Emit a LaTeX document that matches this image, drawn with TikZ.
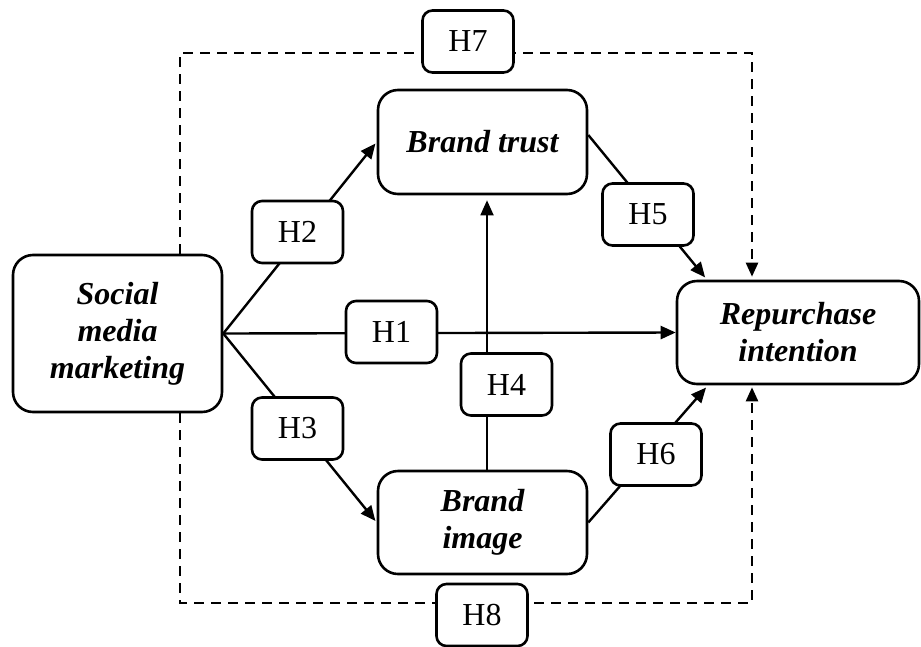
\documentclass[tikz,border=0pt]{standalone}
\usepackage{fontspec}
\setmainfont{Liberation Serif}
\usetikzlibrary{arrows.meta,calc}

\tikzset{
  construct/.style={draw, line width=2.6pt, rounded corners=20pt, align=center,
    inner sep=0pt, font=\fontsize{32}{37}\selectfont\bfseries\itshape},
  hyp/.style={draw, line width=2.6pt, rounded corners=10pt, fill=white,
    minimum width=91pt, minimum height=62pt, inner sep=0pt,
    font=\fontsize{32}{37}\selectfont},
  arrowlink/.style={line width=2.4pt, -{Triangle[length=15pt,width=13pt]}},
  dashlink/.style={line width=2.4pt, dash pattern=on 10pt off 7pt,
    -{Triangle[length=14pt,width=12pt]}}
}

\begin{document}
\begin{tikzpicture}[x=1pt,y=-1pt]
  \useasboundingbox (0,0) rectangle (921,646);

  % constructs
  \node[construct, minimum width=209pt, minimum height=157pt] (smm) at (117.5,333.5)
    {Social\\media\\marketing};
  \node[construct, minimum width=209pt, minimum height=104pt] (trust) at (482.5,142)
    {Brand trust};
  \node[construct, minimum width=209pt, minimum height=103pt] (image) at (482.5,522.5)
    {Brand\\image};
  \node[construct, minimum width=242pt, minimum height=103pt] (rep) at (798,332.5)
    {Repurchase\\intention};

  % direct paths
  \draw[arrowlink, shorten >=2pt] (smm.east) -- (trust.west);
  \draw[arrowlink] (smm.east) -- (rep.west);
  \draw[arrowlink, shorten >=2pt] (smm.east) -- (image.west);
  \draw[line width=1.8pt, -{Triangle[length=15pt,width=13pt]}, shorten >=5pt]
    ([xshift=4.5pt]image.north) -- ([xshift=4.5pt]trust.south);
  \draw[arrowlink, shorten >=3pt] ([yshift=7pt]trust.east) -- ([xshift=-91pt]rep.north);
  \draw[arrowlink, shorten >=3pt] (image.east) -- ([xshift=-90pt]rep.south);

  % mediated paths (dashed frame)
  \coordinate (tl) at (180,53);
  \coordinate (tr) at (752,53);
  \coordinate (bl) at (180,603);
  \coordinate (br) at (752,603);
  \draw[dashlink, shorten >=3pt] ([xshift=62.5pt]smm.north) -- (tl) -- (tr)
    -- ([xshift=-46pt]rep.north);
  \draw[dashlink, shorten >=2pt] ([xshift=62.5pt]smm.south) -- (bl) -- (br)
    -- ([xshift=-46pt]rep.south);

  % hypothesis labels
  \node[hyp] (h1) at (391.5,332) {H1};
  \node[hyp] (h2) at (297.5,232) {H2};
  \node[hyp] (h3) at (297.5,428.5) {H3};
  \node[hyp] (h4) at (506.5,384.5) {H4};
  \node[hyp] (h5) at (648,214.5) {H5};
  \node[hyp] (h6) at (656,454.5) {H6};
  \node[hyp] (h7) at (468,41.5) {H7};
  \node[hyp] (h8) at (482,615) {H8};
\end{tikzpicture}
\end{document}
